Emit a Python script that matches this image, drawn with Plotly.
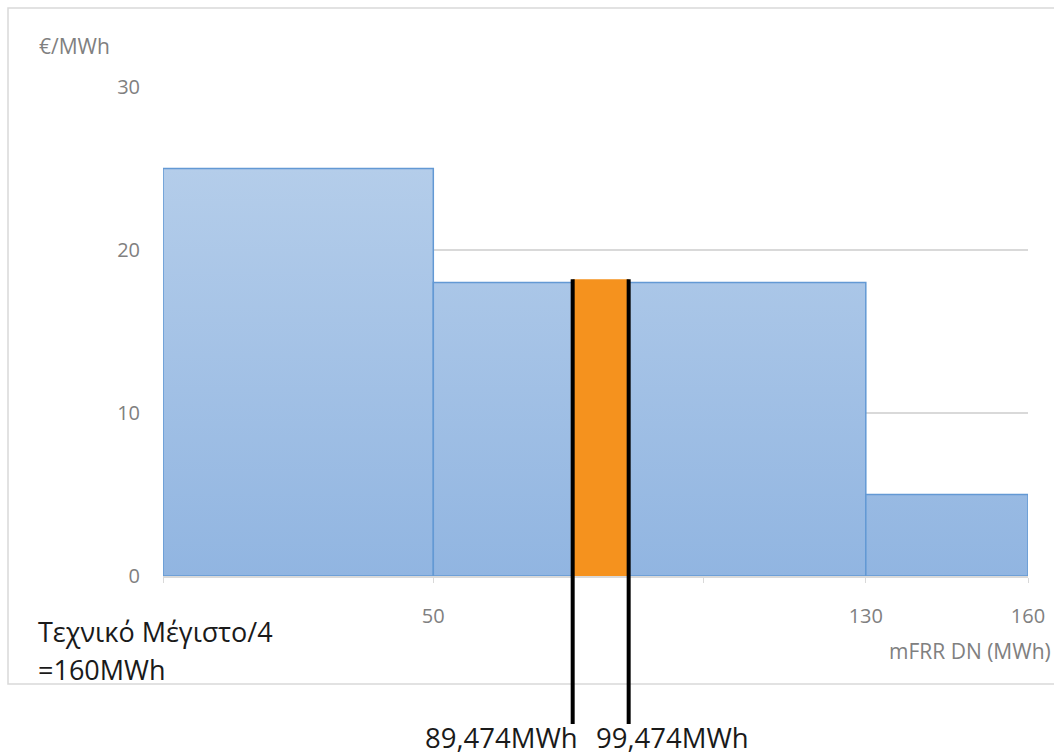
import plotly.graph_objects as go

# Offer curve of mFRR DN: price steps over volume
step_edges = [0, 50, 130, 160]        # MWh
step_prices = [25, 18, 5]             # €/MWh

# Activated volume interval
activated_from = 89.474               # MWh
activated_to = 99.474                 # MWh
activated_price = 18.2                # €/MWh

x_tick_vals = [0, 50, 100, 130, 160]
x_tick_text = ["", "50", "", "130", "160"]
y_tick_vals = [0, 10, 20, 30]

note_lines = ["Τεχνικό Μέγιστο/4", "=160MWh"]
x_title = "mFRR DN (MWh)"
y_title = "€/MWh"

FONT = "Open Sans"
GRID = "#d9d9d9"
TICK_FONT = dict(family=FONT, size=20, color="#808080")

# pixel geometry of the plot area
PX_L, PX_R, PX_T, PX_B = 163, 1028, 87, 576
Y_MAX = 30


def paper_x(px):
    return (px - PX_L) / (PX_R - PX_L)


def paper_y(py):
    return (PX_B - py) / (PX_B - PX_T)


fig = go.Figure()

# one filled block per price step
for x0, x1, p in zip(step_edges[:-1], step_edges[1:], step_prices):
    fig.add_trace(go.Scatter(
        x=[x0, x0, x1, x1, x0],
        y=[0, p, p, 0, 0],
        mode="lines",
        fill="toself",
        fillgradient=dict(type="vertical",
                          colorscale=[[0, "#91b5e1"], [1, "#b4cdea"]],
                          start=0, stop=25),
        line=dict(color="#6399d4", width=1.5),
        hoverinfo="skip",
        showlegend=False,
    ))

# activated interval, drawn on an overlay axis of the schematic
fig.add_trace(go.Scatter(
    x=[activated_from, activated_from, activated_to, activated_to, activated_from],
    y=[0, activated_price, activated_price, 0, 0],
    xaxis="x2",
    mode="lines",
    fill="toself",
    fillcolor="#f5921e",
    line=dict(color="#f5921e", width=0),
    hoverinfo="skip",
    showlegend=False,
))

shapes = []
annotations = []

# vertical markers that run below the chart down to their labels
for v, anchor, shift in [(activated_from, "right", 6), (activated_to, "left", -34)]:
    shapes.append(dict(type="line", xref="x2", yref="paper",
                       x0=v, x1=v, y0=activated_price / Y_MAX, y1=paper_y(724),
                       line=dict(color="black", width=4), layer="above"))
    annotations.append(dict(xref="x2", yref="paper", x=v, y=paper_y(737),
                            xanchor=anchor, yanchor="middle", xshift=shift,
                            text=f"{v:.3f}".replace(".", ",") + "MWh",
                            showarrow=False, borderpad=0,
                            font=dict(family=FONT, size=27.5, color="#1a1a1a")))

# chart area frame
shapes.append(dict(type="rect", xref="paper", yref="paper",
                   x0=paper_x(8), x1=paper_x(1070), y0=paper_y(684), y1=paper_y(8),
                   line=dict(color=GRID, width=1.5), layer="below"))

annotations.append(dict(xref="paper", yref="paper", x=paper_x(37), y=paper_y(46),
                        xanchor="left", yanchor="middle", text=y_title, showarrow=False,
                        font=dict(family=FONT, size=21, color="#808080")))
annotations.append(dict(xref="paper", yref="paper", x=paper_x(1053), y=paper_y(651),
                        xanchor="right", yanchor="middle", text=x_title, showarrow=False,
                        font=dict(family=FONT, size=21, color="#808080")))
annotations.append(dict(xref="paper", yref="paper", x=paper_x(36), y=paper_y(631),
                        xanchor="left", yanchor="middle", text=note_lines[0], showarrow=False,
                        font=dict(family=FONT, size=27, color="#1a1a1a")))
annotations.append(dict(xref="paper", yref="paper", x=paper_x(36), y=paper_y(669),
                        xanchor="left", yanchor="middle", text=note_lines[1], showarrow=False,
                        font=dict(family=FONT, size=27, color="#1a1a1a")))

fig.update_layout(
    width=1054, height=755,
    margin=dict(l=PX_L, r=1054 - PX_R, t=PX_T, b=755 - PX_B),
    paper_bgcolor="white", plot_bgcolor="white",
    xaxis=dict(range=[step_edges[0], step_edges[-1]],
               tickvals=x_tick_vals, ticktext=x_tick_text,
               ticks="outside", ticklen=5, tickcolor=GRID,
               showline=True, linecolor=GRID, linewidth=1.5,
               showgrid=False, zeroline=False, automargin=False,
               tickfont=TICK_FONT, ticklabelstandoff=16),
    xaxis2=dict(overlaying="x", range=[16.3, 170.8], visible=False),
    yaxis=dict(range=[0, Y_MAX], tickvals=y_tick_vals,
               showgrid=True, gridcolor=GRID, gridwidth=1.5,
               zeroline=False, showline=False, automargin=False,
               tickfont=TICK_FONT, ticklabelstandoff=22),
    shapes=shapes,
    annotations=annotations,
)

fig.write_html("out.html")
